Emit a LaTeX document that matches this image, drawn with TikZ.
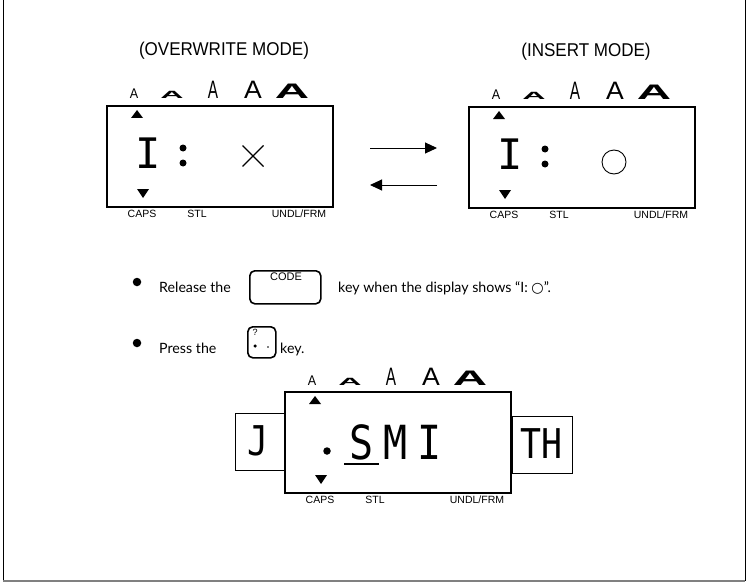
\documentclass[tikz,border=0pt]{standalone}
\usepackage{fontspec}
\setmainfont{Liberation Sans}
\newfontfamily\disp{DejaVu Sans Mono}
\newfontfamily\bodyf{Lato}
\newfontfamily\sym{DejaVu Sans}
\usetikzlibrary{arrows.meta,calc}
\tikzset{
  lcdbox/.style={draw, line width=2.4pt, minimum width=226pt, minimum height=101pt, inner sep=0, anchor=north west},
  aa/.style={anchor=base, inner sep=0, font=\fontsize{14}{14}\selectfont},
  lab/.style={inner sep=0, font=\fontsize{10.5}{10.5}\selectfont},
  big/.style={inner sep=0, font=\disp\fontsize{42}{42}\selectfont},
  bigger/.style={inner sep=0, font=\disp\fontsize{47}{47}\selectfont},
  side/.style={inner sep=0, font=\disp\fontsize{41}{41}\selectfont},
  body/.style={inner sep=0, anchor=base west, font=\bodyf\fontsize{14.2}{14.2}\selectfont},
  bullet/.style={circle, fill, inner sep=0, minimum size=8.5pt},
  dispdot/.style={circle, fill, inner sep=0, minimum size=7pt},
  keycap/.style={draw, line width=1.6pt, rounded corners=5pt, inner sep=0, anchor=north west},
  sidebox/.style={draw, line width=0.8pt, inner sep=0, anchor=north west},
  mode/.style={inner sep=0, font=\fontsize{18.5}{18.5}\selectfont},
  arr/.style={line width=1pt, -{Triangle[length=12pt,width=11pt]}},
}
\newcommand\lcddisp[3]{% name, left x, top y
  \node[lcdbox] (#1) at (#2,#3) {};
  \node[aa] (#1a1) at ({#2+28},{#3-6}) {\scalebox{0.9}[1]{A}};
  \node[aa] (#1a2) at ({#2+66},{#3-6}) {\scalebox{2.3}[0.75]{\bfseries A}};
  \node[aa] (#1a3) at ({#2+107},{#3-6}) {\scalebox{1.1}[1.8]{A}};
  \node[aa] (#1a4) at ({#2+147},{#3-6}) {\scalebox{1.9}[1.8]{A}};
  \node[aa] (#1a5) at ({#2+186},{#3-6}) {\scalebox{3.4}[1.5]{\bfseries A}};
  \fill ({#2+31},{#3+5}) -- ({#2+25},{#3+13}) -- ({#2+37},{#3+13}) -- cycle;
  \fill ({#2+37},{#3+93}) -- ({#2+31},{#3+84}) -- ({#2+43},{#3+84}) -- cycle;
  \node[lab] (#1caps) at ({#2+36},{#3+109}) {CAPS};
  \node[lab] (#1stl) at ({#2+91},{#3+109}) {STL};
  \node[lab] (#1undl) at ({#2+193},{#3+109}) {UNDL/FRM};
}
\begin{document}
\begin{tikzpicture}[x=1pt,y=-1pt]
\useasboundingbox (0,0) rectangle (746,583);
% frame
\draw[line width=1pt] (3,0) -- (3,581);
\draw[line width=1pt] (745,0) -- (745,581);
\draw[line width=1.5pt, gray] (3,581) -- (745,581);

% mode titles
\node[mode] (m1) at (224,51) {\scalebox{0.92}[1]{(OVERWRITE MODE)}};
\node[mode] (m2) at (586,52) {\scalebox{0.92}[1]{(INSERT MODE)}};

% display 1
\lcddisp{d}{106}{105}
\node[big] (dI) at (148,153) {I};
\node[dispdot] (dc1) at (183,148) {};
\node[dispdot] (dc2) at (183,163) {};
\coordinate (xc) at (253,156);
\draw[line width=1.1pt] ($(xc)+(-10.5,-10.5)$) -- ($(xc)+(10.5,10.5)$);
\draw[line width=1.1pt] ($(xc)+(-10.5,10.5)$) -- ($(xc)+(10.5,-10.5)$);

% display 2
\lcddisp{e}{468}{106}
\node[big] (eI) at (510,154) {I};
\node[dispdot] (ec1) at (545,149) {};
\node[dispdot] (ec2) at (545,164) {};
\node[circle, draw, line width=0.9pt, minimum size=24pt, inner sep=0] (eo) at (614,162) {};

% arrows
\coordinate (r1) at (370,148);
\coordinate (r2) at (437,148);
\coordinate (l1) at (437,185);
\coordinate (l2) at (370,185);
\draw[arr] (r1) -- (r2);
\draw[arr] (l1) -- (l2);

% bullets
\node[bullet] (b1) at (137,282) {};
\node[body] (t1) at (159,292) {Release the};
\node[keycap, minimum width=71pt, minimum height=33pt] (kc) at (249,270) {};
\node[inner sep=0, anchor=base, font=\fontsize{11}{11}\selectfont] (kct) at (286,280) {CODE};
\node[body] (t2) at (338,292) {key when the display shows “I: {\sym ○}”.};

\node[bullet] (b2) at (137,343) {};
\node[body] (t3) at (159,353) {Press the};
\node[keycap, minimum width=28pt, minimum height=31pt] (kq) at (247,326) {};
\node[inner sep=0, font=\fontsize{9}{9}\selectfont] (kq1) at (255,332) {?};
\node[circle, fill, inner sep=0, minimum size=3.5pt] (kq2) at (255,346) {};
\node[circle, fill, inner sep=0, minimum size=1.6pt] (kq3) at (268,347) {};
\node[body] (t4) at (280,353) {key.};

% display 3
\node[sidebox, minimum width=50pt, minimum height=57pt] (jb) at (235,413) {};
\node[sidebox, minimum width=60pt, minimum height=57pt] (thb) at (512,416) {};
\lcddisp{f}{284}{391}
\node[side] (fj) at (258,441) {\scalebox{0.85}[1]{J}};
\node[side] (fth) at (541,444) {\scalebox{0.85}[1]{TH}};
\node[dispdot, minimum size=7.5pt] (fdot) at (327,451) {};
\node[bigger] (fs) at (362,442) {\scalebox{0.85}[1]{S}};
\node[bigger] (fm) at (396,442) {\scalebox{0.85}[1]{M}};
\node[bigger] (fi) at (430,442) {\scalebox{0.85}[1]{I}};
\coordinate (u1) at (344,464);
\coordinate (u2) at (379,464);
\draw[line width=1.1pt] (u1) -- (u2);
\end{tikzpicture}
\end{document}
